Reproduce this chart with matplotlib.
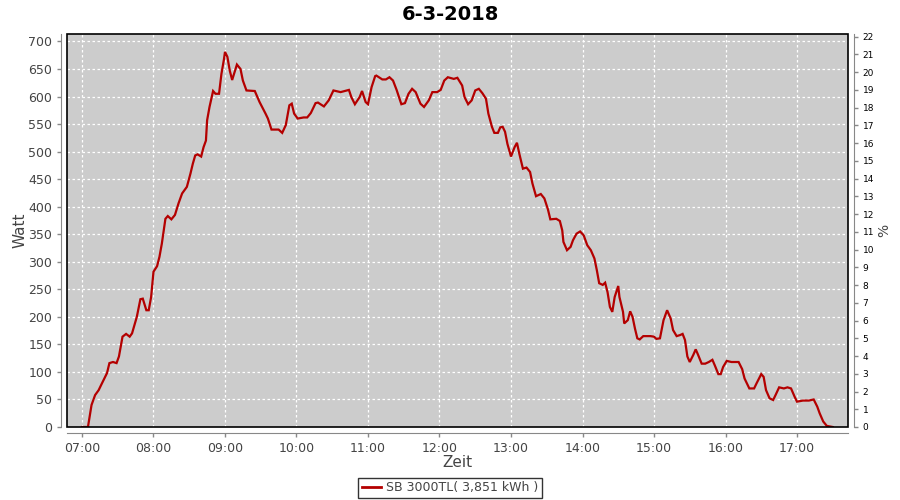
import numpy as np
import matplotlib
matplotlib.use("Agg")
import matplotlib.pyplot as plt
from matplotlib.patches import Rectangle
from matplotlib.lines import Line2D

# Readings of the day (time of day, power in watts)
times = ["07:00", "07:05", "07:08", "07:11", "07:14", "07:16", "07:21", "07:23", "07:26", "07:29",
         "07:31", "07:34", "07:37", "07:40", "07:42", "07:46", "07:49", "07:51", "07:54", "07:56",
         "07:58", "08:00", "08:03", "08:05", "08:07", "08:10", "08:12", "08:15", "08:18", "08:21",
         "08:24", "08:28", "08:31", "08:33", "08:35", "08:37", "08:40", "08:42", "08:44", "08:45",
         "08:47", "08:50", "08:52", "08:55", "08:57", "08:59", "09:00", "09:02", "09:04", "09:06",
         "09:08", "09:10", "09:13", "09:15", "09:18", "09:25", "09:29", "09:34", "09:36", "09:39",
         "09:45", "09:48", "09:51", "09:54", "09:56", "09:58", "10:01", "10:06", "10:09", "10:12",
         "10:16", "10:18", "10:23", "10:27", "10:31", "10:37", "10:44", "10:46", "10:49", "10:53",
         "10:55", "10:58", "11:00", "11:03", "11:06", "11:07", "11:12", "11:15", "11:18", "11:21",
         "11:24", "11:28", "11:31", "11:34", "11:37", "11:40", "11:44", "11:47", "11:51", "11:54",
         "11:58", "12:01", "12:04", "12:07", "12:12", "12:15", "12:19", "12:21", "12:24", "12:27",
         "12:30", "12:33", "12:36", "12:39", "12:41", "12:44", "12:46", "12:49", "12:51", "12:53",
         "12:55", "12:57", "13:00", "13:03", "13:05", "13:07", "13:10", "13:13", "13:16", "13:18",
         "13:21", "13:25", "13:28", "13:31", "13:33", "13:38", "13:41", "13:43", "13:44", "13:47",
         "13:50", "13:52", "13:55", "13:58", "14:01", "14:04", "14:07", "14:10", "14:12", "14:14",
         "14:17", "14:19", "14:21", "14:23", "14:25", "14:27", "14:30", "14:31", "14:34", "14:35",
         "14:38", "14:40", "14:42", "14:44", "14:46", "14:48", "14:51", "14:57", "15:00", "15:02",
         "15:05", "15:08", "15:11", "15:14", "15:16", "15:19", "15:22", "15:24", "15:26", "15:28",
         "15:30", "15:33", "15:35", "15:37", "15:40", "15:43", "15:46", "15:49", "15:51", "15:54",
         "15:56", "15:58", "16:01", "16:05", "16:11", "16:14", "16:16", "16:20", "16:24", "16:26",
         "16:30", "16:32", "16:34", "16:37", "16:40", "16:42", "16:45", "16:49", "16:52", "16:55",
         "16:58", "17:00", "17:05", "17:10", "17:14", "17:17", "17:19", "17:22", "17:25", "17:30"]
watt = [0, 0, 40, 58, 67, 76, 98, 116, 118, 116,
        128, 164, 169, 164, 170, 200, 232, 233, 212, 212,
        236, 282, 292, 309, 333, 378, 383, 377, 385, 406,
        424, 436, 460, 478, 493, 495, 491, 508, 520, 557,
        581, 610, 605, 605, 641, 666, 681, 672, 647, 630,
        644, 658, 650, 629, 611, 610, 590, 569, 560, 540,
        540, 534, 548, 584, 587, 569, 560, 562, 562, 570,
        588, 589, 582, 593, 611, 608, 612, 599, 586, 599,
        610, 590, 586, 617, 637, 638, 631, 631, 635, 629,
        612, 586, 588, 605, 614, 608, 587, 581, 593, 608,
        608, 612, 629, 635, 632, 634, 620, 599, 586, 593,
        611, 614, 606, 596, 569, 545, 534, 534, 544, 545,
        536, 514, 491, 508, 516, 496, 469, 471, 463, 442,
        419, 423, 415, 395, 377, 378, 374, 357, 336, 321,
        327, 339, 351, 355, 348, 330, 321, 306, 285, 261,
        258, 262, 245, 218, 209, 236, 256, 236, 209, 188,
        194, 210, 200, 179, 161, 159, 165, 165, 164, 160,
        161, 194, 212, 197, 176, 165, 167, 169, 158, 128,
        118, 131, 141, 131, 115, 115, 118, 122, 112, 96,
        96, 109, 120, 118, 118, 105, 88, 70, 70, 79,
        96, 91, 67, 52, 49, 58, 72, 70, 72, 70,
        55, 46, 48, 48, 50, 37, 25, 10, 2, 0]

title = "6-3-2018"
series_name = "SB 3000TL( 3,851 kWh )"
hour_ticks = list(range(7, 18))
watt_ticks = list(range(0, 701, 50))
pct_ticks = list(range(0, 23))

hours = np.array([int(t[:2]) + int(t[3:]) / 60 for t in times])

label_col = "#444444"
axis_col = "#888888"

fig = plt.figure(figsize=(9, 5), dpi=100)
ax = fig.add_axes([67 / 900, 73 / 500, 781 / 900, 393 / 500])
ax.set_facecolor("#CCCCCC")

ax.plot(hours, watt, color="#B40000", lw=1.6, solid_joinstyle="miter")

ax.set_xlim(7 - 15 / 71.5, 17 + 51 / 71.5)
ax.set_ylim(0, 713.5)
ax.set_xticks(hour_ticks)
ax.set_xticklabels(["%02d:00" % h for h in hour_ticks])
ax.set_yticks(watt_ticks)
ax.grid(True, color="white", ls=(0, (2, 2)), lw=0.9)
ax.set_axisbelow(True)

# gray axis lines offset from the plot outline
for side in ["left", "bottom"]:
    ax.spines[side].set_position(("outward", 4))
    ax.spines[side].set_color(axis_col)
for side in ["top", "right"]:
    ax.spines[side].set_visible(False)
ax.tick_params(colors=axis_col, labelcolor=label_col, labelsize=9, length=3, width=1)

# black plot outline
ax.add_patch(Rectangle((0, 0), 1, 1, transform=ax.transAxes, fill=False,
                       edgecolor="black", lw=1.2, clip_on=False, zorder=5))

ax.set_xlabel("Zeit", fontsize=11, color=label_col, labelpad=0)
ax.set_ylabel("Watt", fontsize=11, color=label_col, labelpad=1)

# right percentage axis
ax2 = ax.twinx()
ax2.set_ylim(0, 22.15)
ax2.set_yticks(pct_ticks)
for side in ["left", "top", "bottom"]:
    ax2.spines[side].set_visible(False)
ax2.spines["right"].set_position(("outward", 4))
ax2.spines["right"].set_color(axis_col)
ax2.tick_params(colors=axis_col, labelcolor="black", labelsize=6.5, length=3, width=1)
ax2.set_ylabel("%", fontsize=10, color=label_col, labelpad=2)

fig.suptitle(title, x=0.5, y=0.99, fontsize=14, fontweight="bold", va="top")

handle = Line2D([], [], color="#B40000", lw=2)
leg = fig.legend([handle], [series_name], loc="lower center", bbox_to_anchor=(0.5, 0.0),
                 frameon=True, fancybox=False, fontsize=9, handlelength=1.5,
                 borderpad=0.3, handletextpad=0.4, borderaxespad=0.15)
leg.get_frame().set_edgecolor("black")
leg.get_frame().set_linewidth(1)
for txt in leg.get_texts():
    txt.set_color(label_col)

fig.savefig("out.png", dpi=100)
